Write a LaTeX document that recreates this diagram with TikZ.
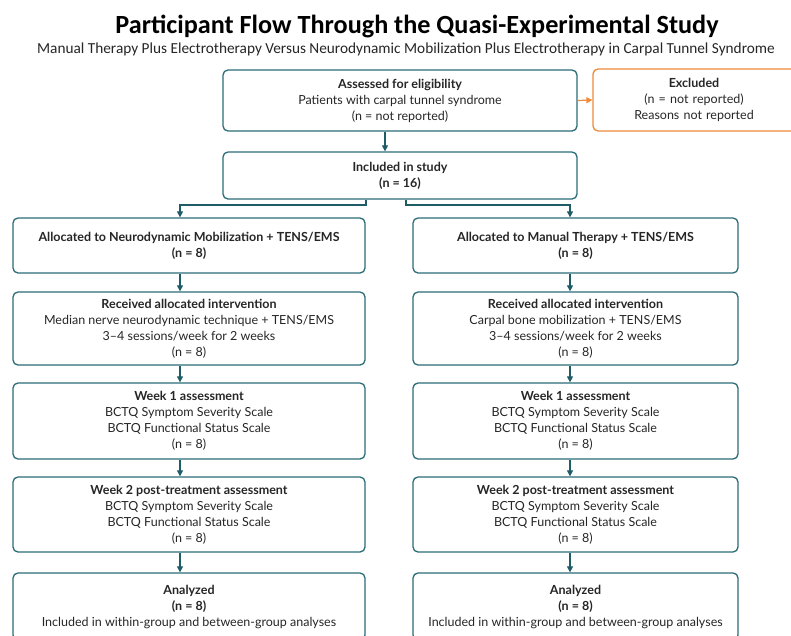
\documentclass[tikz,border=0pt]{standalone}
\usepackage{fontspec}
\setmainfont{Lato}
\newfontfamily\titlefont{Carlito}
\usetikzlibrary{arrows.meta}
\definecolor{teal}{HTML}{2B6D77}
\definecolor{tealdark}{HTML}{1E5C66}
\definecolor{orng}{HTML}{EF8A3A}
\tikzset{
  box/.style={draw=teal, line width=1.3pt, rounded corners=5pt, fill=white,
    align=center, inner sep=0pt, font=\fontsize{12.5}{16}\selectfont, text=black!85},
  exbox/.style={box, draw=orng},
  arr/.style={draw=tealdark, line width=1.2pt, -{Triangle[length=6pt,width=6pt]}},
  oarr/.style={draw=orng, line width=1.2pt, -{Triangle[length=6pt,width=6pt]}},
}
\begin{document}
\begin{tikzpicture}[x=1pt,y=-1pt]
\useasboundingbox (0,0) rectangle (791,635);
\fill[white] (0,0) rectangle (791,635);

\node[font=\titlefont\bfseries\fontsize{26.2}{30}\selectfont, anchor=base] (title) at (417,33) {Participant Flow Through the Quasi-Experimental Study};
\node[font=\titlefont\fontsize{15.3}{16}\selectfont, anchor=base, text=black!85] (sub) at (406,53) {Manual Therapy Plus Electrotherapy Versus Neurodynamic Mobilization Plus Electrotherapy in Carpal Tunnel Syndrome};

\node[box, minimum width=354pt, minimum height=61pt] (assess) at (400,100.5) {\textbf{Assessed for eligibility}\\Patients with carpal tunnel syndrome\\(n = not reported)};
\node[exbox, minimum width=210pt, minimum height=62pt, text width=200pt] (excl) at (698,100) {\hspace*{-8pt}\textbf{Excluded}\\\hspace*{-8pt}(n = not reported)\\\hspace*{-8pt}Reasons not reported};
\node[box, minimum width=354pt, minimum height=47pt] (incl) at (400,175.5) {\textbf{Included in study}\\\textbf{(n = 16)}};

% left column
\node[box, minimum width=352pt, minimum height=55pt] (lalloc) at (189,245.5) {\textbf{Allocated to Neurodynamic Mobilization + TENS/EMS}\\\textbf{(n = 8)}};
\node[box, minimum width=352pt, minimum height=73pt] (lrec) at (189,328.5) {\textbf{Received allocated intervention}\\Median nerve neurodynamic technique + TENS/EMS\\3--4 sessions/week for 2 weeks\\(n = 8)};
\node[box, minimum width=352pt, minimum height=76pt] (lw1) at (189,421) {\textbf{Week 1 assessment}\\BCTQ Symptom Severity Scale\\BCTQ Functional Status Scale\\(n = 8)};
\node[box, minimum width=352pt, minimum height=75pt] (lw2) at (189,514.5) {\textbf{Week 2 post-treatment assessment}\\BCTQ Symptom Severity Scale\\BCTQ Functional Status Scale\\(n = 8)};
\node[box, minimum width=352pt, minimum height=67pt] (lan) at (189,606.5) {\textbf{Analyzed}\\\textbf{(n = 8)}\\Included in within-group and between-group analyses};

% right column
\node[box, minimum width=325pt, minimum height=55pt] (ralloc) at (575.5,245.5) {\textbf{Allocated to Manual Therapy + TENS/EMS}\\\textbf{(n = 8)}};
\node[box, minimum width=325pt, minimum height=73pt] (rrec) at (575.5,328.5) {\textbf{Received allocated intervention}\\Carpal bone mobilization + TENS/EMS\\3--4 sessions/week for 2 weeks\\(n = 8)};
\node[box, minimum width=325pt, minimum height=76pt] (rw1) at (575.5,421) {\textbf{Week 1 assessment}\\BCTQ Symptom Severity Scale\\BCTQ Functional Status Scale\\(n = 8)};
\node[box, minimum width=325pt, minimum height=75pt] (rw2) at (575.5,514.5) {\textbf{Week 2 post-treatment assessment}\\BCTQ Symptom Severity Scale\\BCTQ Functional Status Scale\\(n = 8)};
\node[box, minimum width=325pt, minimum height=67pt] (ran) at (575.5,606.5) {\textbf{Analyzed}\\\textbf{(n = 8)}\\Included in within-group and between-group analyses};

% connectors
\draw[oarr] (assess.east) -- (excl.west);
\draw[arr] (assess.south -| 385,0) -- (incl.north -| 385,0);
\coordinate (jl) at (366,205);
\coordinate (jr) at (406,205);
\draw[arr] (incl.south -| jl) -- (jl) -| (lalloc.north -| 180,0);
\draw[arr] (incl.south -| jr) -- (jr) -| (ralloc.north -| 570,0);

\draw[arr] (lalloc.south -| 180,0) -- (lrec.north -| 180,0);
\draw[arr] (lrec.south -| 180,0) -- (lw1.north -| 180,0);
\draw[arr] (lw1.south -| 180,0) -- (lw2.north -| 180,0);
\draw[arr] (lw2.south -| 180,0) -- (lan.north -| 180,0);

\draw[arr] (ralloc.south -| 570,0) -- (rrec.north -| 570,0);
\draw[arr] (rrec.south -| 570,0) -- (rw1.north -| 570,0);
\draw[arr] (rw1.south -| 570,0) -- (rw2.north -| 570,0);
\draw[arr] (rw2.south -| 570,0) -- (ran.north -| 570,0);
\end{tikzpicture}
\end{document}
